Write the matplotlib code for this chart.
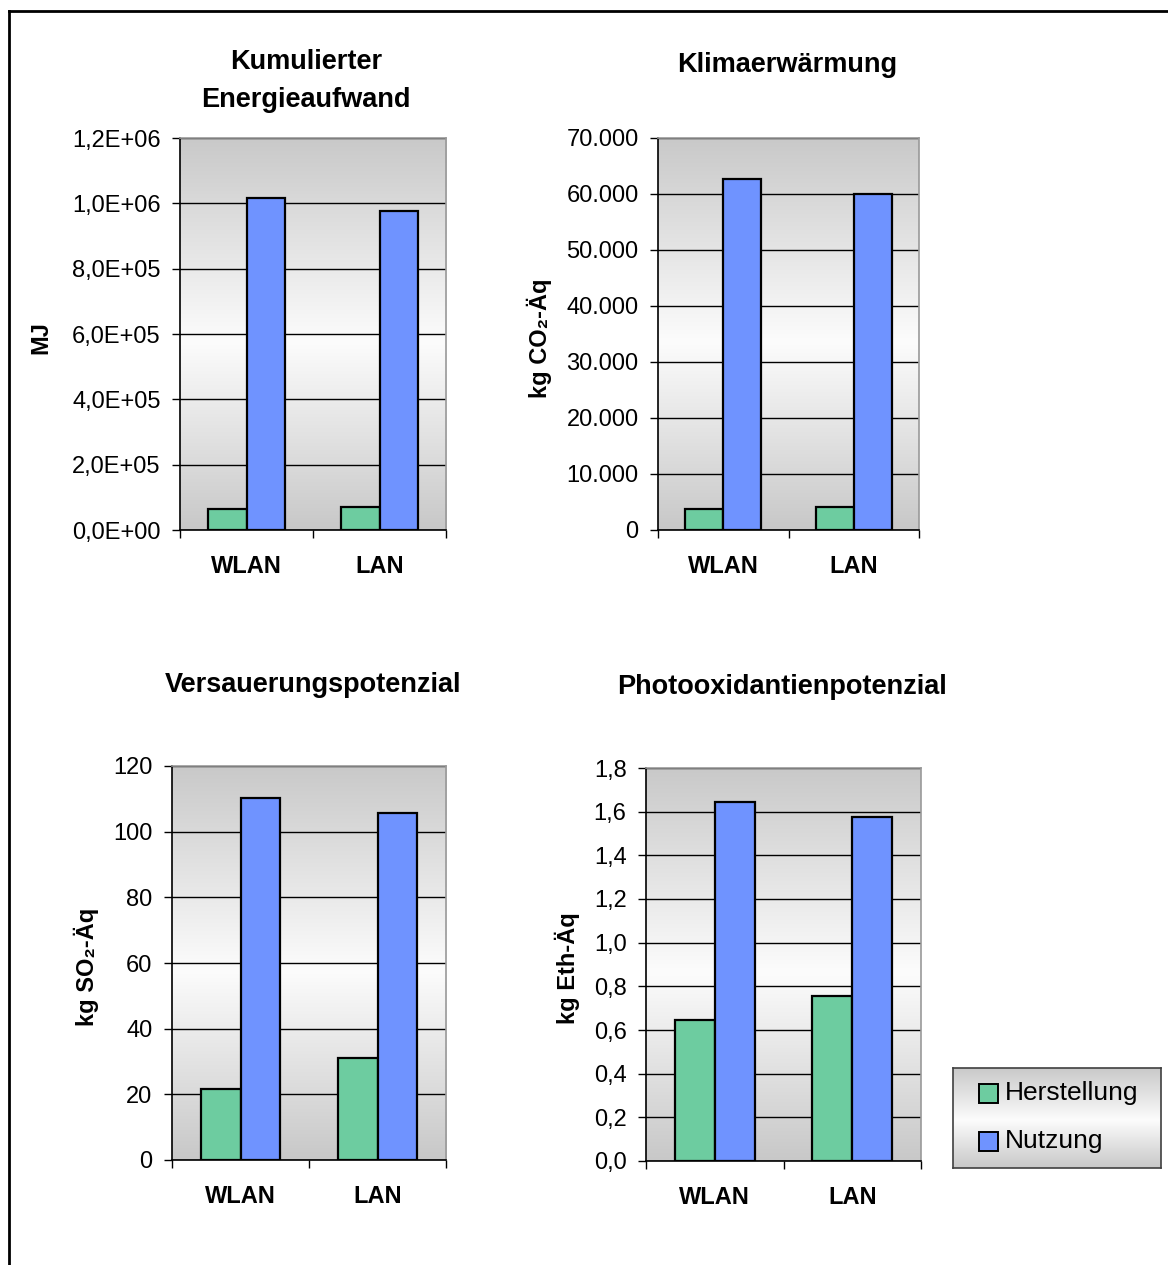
import numpy as np
import matplotlib
matplotlib.use("Agg")
import matplotlib.pyplot as plt
from matplotlib.colors import LinearSegmentedColormap
from matplotlib.patches import Rectangle
from matplotlib.lines import Line2D

plt.rcParams['font.family'] = ['Liberation Sans', 'DejaVu Sans']

# ---------------- data ----------------
categories = ["WLAN", "LAN"]
series_names = ["Herstellung", "Nutzung"]

ked_herstellung = [64000, 70000]
ked_nutzung = [1016000, 977000]
ked_ticks = [0, 2e5, 4e5, 6e5, 8e5, 1e6, 1.2e6]
ked_ticklabels = ["0,0E+00", "2,0E+05", "4,0E+05", "6,0E+05", "8,0E+05", "1,0E+06", "1,2E+06"]

gwp_herstellung = [3750, 4100]
gwp_nutzung = [62700, 60000]
gwp_ticks = [0, 10000, 20000, 30000, 40000, 50000, 60000, 70000]
gwp_ticklabels = ["0", "10.000", "20.000", "30.000", "40.000", "50.000", "60.000", "70.000"]

ap_herstellung = [21.6, 31.0]
ap_nutzung = [110.3, 105.7]
ap_ticks = [0, 20, 40, 60, 80, 100, 120]
ap_ticklabels = ["0", "20", "40", "60", "80", "100", "120"]

pocp_herstellung = [0.645, 0.758]
pocp_nutzung = [1.644, 1.576]
pocp_ticks = [0, 0.2, 0.4, 0.6, 0.8, 1.0, 1.2, 1.4, 1.6, 1.8]
pocp_ticklabels = ["0,0", "0,2", "0,4", "0,6", "0,8", "1,0", "1,2", "1,4", "1,6", "1,8"]

colors = ["#6dcca0", "#6f93ff"]

W, H = 1168, 1265
fig = plt.figure(figsize=(W / 100, H / 100), dpi=100)

grad_cmap = LinearSegmentedColormap.from_list(
    "g", [(0.0, "#c9c9c9"), (0.52, "#fcfcfc"), (1.0, "#c8c8c8")])


def px_rect(l, r, t, b):
    return [l / W, (H - b) / H, (r - l) / W, (b - t) / H]


def gradient(ax):
    g = np.linspace(0, 1, 256).reshape(-1, 1)
    ax.imshow(g, cmap=grad_cmap, aspect='auto', extent=[0, 1, 0, 1],
              transform=ax.transAxes, zorder=0, interpolation='bicubic')


def panel(rect, herst, nutz, ticks, ticklabels, ylabel, ylabel_x):
    ax = fig.add_axes(rect)
    gradient(ax)
    x = np.arange(len(categories)) + 0.5
    w = 0.29
    ax.bar(x - w / 2, herst, w, color=colors[0], edgecolor="black", linewidth=1.6, zorder=3)
    ax.bar(x + w / 2, nutz, w, color=colors[1], edgecolor="black", linewidth=1.6, zorder=3)
    ax.set_xlim(0, len(categories))
    ax.set_ylim(ticks[0], ticks[-1])
    ax.set_yticks(ticks)
    ax.set_yticklabels(ticklabels, fontsize=17)
    ax.set_xticks(np.arange(len(categories) + 1))
    ax.set_xticklabels([])
    ax.set_xticks(x, minor=True)
    ax.set_xticklabels(categories, minor=True, fontsize=17, fontweight='bold')
    ax.tick_params(axis='x', which='major', direction='out', length=6, width=1)
    ax.tick_params(axis='x', which='minor', length=0, pad=18)
    ax.tick_params(axis='y', direction='out', length=6, width=1, pad=8)
    ax.set_axisbelow(True)
    ax.grid(axis='y', color='black', linewidth=1.0)
    ax.spines['top'].set_color('#999999')
    ax.spines['right'].set_color('#999999')
    ax.spines['left'].set_color('black')
    ax.spines['bottom'].set_color('black')
    for s in ax.spines.values():
        s.set_linewidth(1.2)
    ax.set_ylabel(ylabel, fontsize=17, fontweight='bold')
    ax.yaxis.set_label_coords(ylabel_x, 0.49)
    return ax


panel(px_rect(180, 446, 138, 530), ked_herstellung, ked_nutzung, ked_ticks, ked_ticklabels, "MJ", -0.481)
panel(px_rect(658, 919, 138, 530), gwp_herstellung, gwp_nutzung, gwp_ticks, gwp_ticklabels, "kg CO\u2082-Äq", -0.407)
panel(px_rect(172, 446, 766, 1160), ap_herstellung, ap_nutzung, ap_ticks, ap_ticklabels, "kg SO\u2082-Äq", -0.267)
panel(px_rect(646, 921, 768, 1161), pocp_herstellung, pocp_nutzung, pocp_ticks, pocp_ticklabels, "kg Eth-Äq", -0.240)

# titles
tkw = dict(fontsize=19.5, fontweight='bold', ha='center', va='center')
fig.text(306 / W, 1 - 62 / H, "Kumulierter", **tkw)
fig.text(306 / W, 1 - 100 / H, "Energieaufwand", **tkw)
fig.text(787 / W, 1 - 65 / H, "Klimaerwärmung", **tkw)
fig.text(313 / W, 1 - 685 / H, "Versauerungspotenzial", **tkw)
fig.text(782 / W, 1 - 687 / H, "Photooxidantienpotenzial", **tkw)

# legend
lax = fig.add_axes(px_rect(953, 1161, 1068, 1168))
gradient(lax)
lax.set_xlim(0, 1)
lax.set_ylim(0, 1)
lax.set_xticks([])
lax.set_yticks([])
for s in lax.spines.values():
    s.set_color('#404040')
    s.set_linewidth(1.2)
rows_y = [0.75, 0.27]
for name, col, yc in zip(series_names, colors, rows_y):
    lax.add_patch(Rectangle((0.125, yc - 0.095), 0.091, 0.19, facecolor=col,
                            edgecolor='black', linewidth=1.4, zorder=3))
    lax.text(0.25, yc, name, fontsize=19, va='center', ha='left', zorder=3)

# outer frame (top and left edges)
fig.add_artist(Line2D([9 / W, 1.0], [1 - 11 / H, 1 - 11 / H], color='black', linewidth=2,
                      transform=fig.transFigure))
fig.add_artist(Line2D([9 / W, 9 / W], [1 - 11 / H, 0.0], color='black', linewidth=2,
                      transform=fig.transFigure))

fig.savefig("out.png", dpi=100)
